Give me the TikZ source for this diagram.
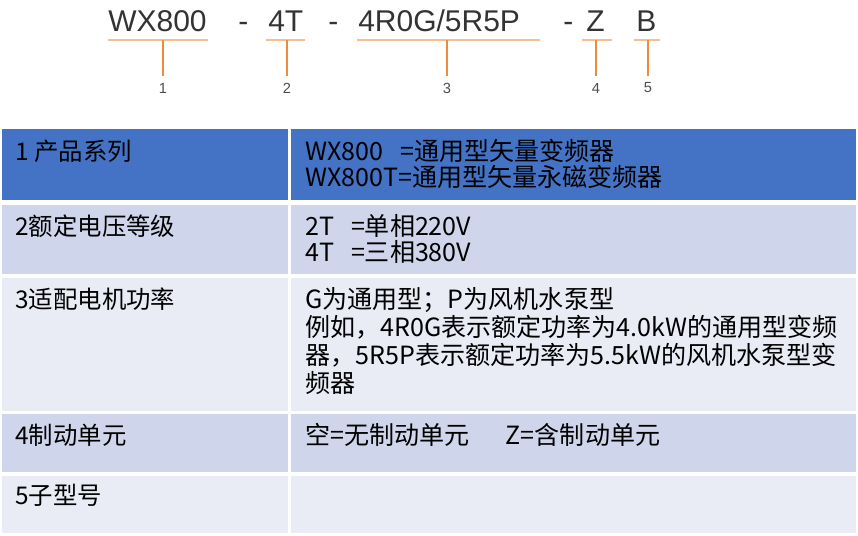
\documentclass[tikz,border=0pt]{standalone}
\usepackage{fontspec}
\setmainfont{Noto Sans CJK SC}
\newfontfamily\arialf{Liberation Sans}
\definecolor{hdr}{HTML}{4472C4}
\definecolor{rowa}{HTML}{CFD5EA}
\definecolor{rowb}{HTML}{E9EBF5}
\definecolor{org}{HTML}{F4A460}
\definecolor{orgd}{HTML}{F08A3C}
\begin{document}
\begin{tikzpicture}[x=0.75pt,y=-0.75pt,
  code/.style={font=\arialf\fontsize{22.5}{24}\selectfont,text=black!80,inner sep=0,anchor=base west},
  num/.style={font=\arialf\fontsize{11}{12}\selectfont,text=black!70,inner sep=0},
  tick/.style={draw=orgd,line width=0.9pt},
  uline/.style={draw=org!70,line width=1.4pt},
  lt/.style={font=\fontsize{18.3}{19.5}\selectfont,inner sep=0,anchor=base west},
  rt/.style={font=\fontsize{18.8}{19.5}\selectfont,inner sep=0,anchor=base west},
]
\useasboundingbox (0,0) rectangle (858,536);
% top code
\node[code] (c1) at (108,31) {WX800};
\node[code] (d1) at (238,31) {-};
\node[code] (c2) at (268,31) {4T};
\node[code] (d2) at (328,31) {-};
\node[code] (c3) at (358,31) {4R0G/5R5P};
\node[code] (d3) at (563,31) {-};
\node[code] (c4) at (586,31) {Z};
\node[code] (c5) at (636,31) {B};
\draw[uline] (108,40) -- (208,40);
\draw[uline] (266,40) -- (305,40);
\draw[uline] (357,40) -- (540,40);
\draw[uline] (582,40) -- (612,40);
\draw[uline] (634,40) -- (660,40);
\foreach \x/\n in {163/1,287/2,447/3,596/4,648/5}{
  \coordinate (t\n) at (\x,40);
  \node[num] (n\n) at (\x,88) {\n};
  \draw[tick] (t\n) -- (\x,76);
}
% table rows
\fill[hdr] (2,129) rectangle (288,200);
\fill[hdr] (291,129) rectangle (856,200);
\fill[rowa] (2,205) rectangle (288,274);
\fill[rowa] (291,205) rectangle (856,274);
\fill[rowb] (2,278) rectangle (288,411);
\fill[rowb] (291,278) rectangle (856,411);
\fill[rowa] (2,414) rectangle (288,472);
\fill[rowa] (291,414) rectangle (856,472);
\fill[rowb] (2,476) rectangle (288,533);
\fill[rowb] (291,476) rectangle (856,533);
% texts
\node[lt] (l1) at (15,160) {1 产品系列};
\node[rt] (r1a) at (305,160) {WX800\ \ \ =通用型矢量变频器};
\node[rt] (r1b) at (305,186) {WX800T=通用型矢量永磁变频器};
\node[lt] (l2) at (15,235) {2额定电压等级};
\node[rt] (r2a) at (305,235) {2T\ \ \ =单相220V};
\node[rt] (r2b) at (305,261) {4T\ \ \ =三相380V};
\node[lt] (l3) at (15,308) {3适配电机功率};
\node[rt] (r3a) at (305,308) {G为通用型；P为风机水泵型};
\node[rt] (r3b) at (305,336) {例如，4R0G表示额定功率为4.0kW的通用型变频};
\node[rt] (r3c) at (305,364) {器，5R5P表示额定功率为5.5kW的风机水泵型变};
\node[rt] (r3d) at (305,392) {频器};
\node[lt] (l4) at (15,444) {4制动单元};
\node[rt] (r4) at (305,444) {空=无制动单元\quad\ \ Z=含制动单元};
\node[lt] (l5) at (15,504) {5子型号};
\end{tikzpicture}
\end{document}
